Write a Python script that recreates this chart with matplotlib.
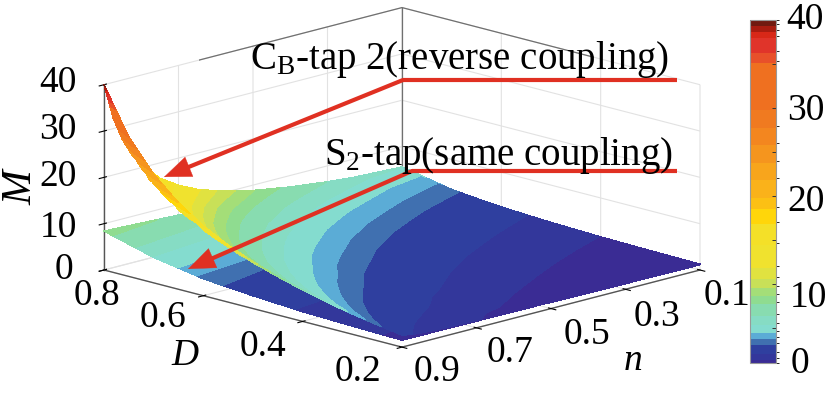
import numpy as np
import matplotlib
matplotlib.use('Agg')
import matplotlib.pyplot as plt
from matplotlib.colors import ListedColormap, BoundaryNorm
from matplotlib.cm import ScalarMappable
from mpl_toolkits.mplot3d import proj3d

plt.rcParams['font.family'] = ['Liberation Serif', 'DejaVu Serif']
plt.rcParams['mathtext.fontset'] = 'custom'
plt.rcParams['mathtext.rm'] = 'Liberation Serif'
plt.rcParams['mathtext.it'] = 'Liberation Serif:italic'

W, H = 827, 395

# values
D_rev = [0.2, 0.25, 0.3, 0.35, 0.4, 0.45, 0.5, 0.55, 0.6, 0.65, 0.7, 0.75, 0.8]
n_rev = [0.1, 0.2, 0.3, 0.4, 0.5, 0.6, 0.65, 0.7, 0.75, 0.8, 0.825, 0.85, 0.875, 0.9]
M_rev = [
    [1.13, 1.22, 1.33, 1.45, 1.59, 1.76, 1.96, 2.21, 2.52, 2.91, 3.44, 4.18, 5.60],
    [1.16, 1.27, 1.39, 1.52, 1.68, 1.87, 2.10, 2.38, 2.73, 3.17, 3.77, 4.60, 5.85],
    [1.21, 1.33, 1.46, 1.62, 1.80, 2.02, 2.28, 2.60, 2.99, 3.50, 4.18, 5.14, 6.57],
    [1.27, 1.41, 1.57, 1.75, 1.96, 2.21, 2.52, 2.89, 3.35, 3.95, 4.74, 5.85, 7.52],
    [1.35, 1.52, 1.71, 1.93, 2.18, 2.49, 2.85, 3.29, 3.85, 4.56, 5.52, 6.85, 8.85],
    [1.48, 1.68, 1.92, 2.20, 2.52, 2.90, 3.35, 3.91, 4.60, 5.49, 6.68, 8.35, 10.85],
    [1.51, 1.75, 2.03, 2.34, 2.71, 3.14, 3.66, 4.29, 5.09, 6.11, 7.47, 9.37, 12.23],
    [1.63, 1.91, 2.23, 2.59, 3.02, 3.53, 4.13, 4.87, 5.80, 6.99, 8.58, 10.80, 14.13],
    [1.70, 2.03, 2.42, 2.85, 3.37, 3.97, 4.70, 5.59, 6.70, 8.13, 10.03, 12.70, 16.70],
    [1.80, 2.22, 2.70, 3.24, 3.89, 4.64, 5.55, 6.66, 8.05, 9.84, 12.22, 15.55, 20.55],
    [1.88, 2.36, 2.91, 3.53, 4.27, 5.13, 6.17, 7.44, 9.03, 11.07, 13.79, 17.60, 23.31],
    [2.02, 2.57, 3.21, 3.94, 4.80, 5.80, 7.02, 8.50, 10.35, 12.73, 15.90, 20.35, 27.02],
    [2.21, 2.87, 3.64, 4.51, 5.54, 6.75, 8.21, 9.98, 12.21, 15.06, 18.87, 24.21, 32.21],
    [2.60, 3.43, 4.39, 5.48, 6.77, 8.28, 10.10, 12.32, 15.10, 18.67, 23.43, 30.10, 40.00],
]

D_same = [0.2, 0.3, 0.4, 0.5, 0.6, 0.7, 0.8]
n_same = [0.1, 0.3, 0.5, 0.7, 0.9]
M_same = [
    [1.25, 1.40, 1.60, 1.95, 2.45, 3.50, 5.60],
    [1.31, 1.49, 1.73, 2.15, 2.75, 4.00, 6.30],
    [1.37, 1.57, 1.85, 2.35, 3.05, 4.50, 7.00],
    [1.44, 1.66, 1.98, 2.55, 3.35, 5.00, 7.70],
    [1.50, 1.75, 2.10, 2.75, 3.65, 5.50, 8.40],
]

levels = [1.0, 1.6, 2.2, 3.3, 3.9, 4.6, 5.6, 6.6, 7.9, 8.8, 9.8, 10.8, 12, 14.7, 17,
          18.7, 20, 22, 24, 26, 28, 30, 35.3, 36.5, 38.2, 38.9, 39.6, 40]
band_colors = ['#3a2c94', '#33379b', '#2f3f9f', '#4070b0', '#5bacd6', '#84dccf', '#86dcc4',
               '#88dcb0', '#8fdc90', '#a4de78', '#c8e058', '#e0e240', '#f0e22e',
               '#f4e028', '#ffd60a', '#fcc014', '#fab21a', '#f8a51c', '#f5951e',
               '#f3861f', '#f07a20', '#ef7020', '#e8502a', '#e0342a', '#d82818',
               '#a81c10', '#701a10']

D_ticks = [0.2, 0.4, 0.6, 0.8]
n_ticks = [0.1, 0.3, 0.5, 0.7, 0.9]
M_ticks = [0, 10, 20, 30, 40]
cbar_ticks = [5, 10, 15, 20, 25, 30, 35]
cbar_labels = ['0', '10', '20', '30', '40']

cmap = ListedColormap(band_colors)
norm = BoundaryNorm(levels, cmap.N)

fig = plt.figure(figsize=(W / 100, H / 100), dpi=100)
ax = fig.add_axes([0, 0, 1, 1], projection='3d', proj_type='ortho')
ax.view_init(elev=15, azim=135)
ax.set_xlim(0.2, 0.8, view_margin=0)
ax.set_ylim(0.1, 0.9, view_margin=0)
ax.set_zlim(0, 40, view_margin=0)
ax.set_xticks(D_ticks)
ax.set_yticks(n_ticks)
ax.set_zticks(M_ticks)
ax.set_xticklabels([])
ax.set_yticklabels([])
ax.set_zticklabels([])
for axis in [ax.xaxis, ax.yaxis, ax.zaxis]:
    axis.set_pane_color((1, 1, 1, 0))
    axis.line.set_color('#555555')
    axis.line.set_linewidth(1.0)
    axis._axinfo['grid']['color'] = '#e2e2e2'
    axis._axinfo['grid']['linewidth'] = 0.8
    axis._axinfo['tick']['color'] = '#555555'
    axis._axinfo['tick']['linewidth'] = {True: 0.8, False: 0.5}
ax.zaxis.set_ticks_position('upper')

# back walls of the box, on top of the grid lines that share these edges
ax.plot([0.8, 0.8, 0.2], [0.9, 0.1, 0.1], [40, 40, 40], color='#707070', lw=0.9)
ax.plot([0.8, 0.8, 0.2], [0.9, 0.1, 0.1], [0, 0, 0], color='#707070', lw=0.9)
ax.plot([0.8, 0.8], [0.1, 0.1], [0, 40], color='#707070', lw=0.9)
ax.plot([0.2, 0.2], [0.1, 0.1], [0, 40], color='#606060', lw=1.1)
ax.plot([0.8, 0.8], [0.9, 0.9], [0, 40], color='#555555', lw=1.1)


def to_px(d, n, m):
    shape = np.shape(d)
    x2, y2, _ = proj3d.proj_transform(np.ravel(d).astype(float), np.ravel(n).astype(float),
                                      np.ravel(m).astype(float), ax.get_proj())
    pts = ax.transData.transform(np.column_stack([x2, y2]))
    return pts[:, 0].reshape(shape), H - pts[:, 1].reshape(shape)


# fit the box onto the reference corners
zoom = 1.0
ax.set_box_aspect((424, 424, 193), zoom=zoom)
fig.canvas.draw()
xs, ys = to_px([0.8, 0.2], [0.9, 0.1], [0, 0])
zoom *= 596 / (xs[1] - xs[0])
ax.set_box_aspect((424, 424, 193), zoom=zoom)
fig.canvas.draw()
xs, ys = to_px([0.8, 0.2], [0.9, 0.1], [0, 0])
ax.set_position([(104 - xs[0]) / W, (ys[0] - 270) / H, 1, 1])
fig.canvas.draw()

over = fig.add_axes([0, 0, 1, 1])
over.set_xlim(0, W)
over.set_ylim(H, 0)
over.axis('off')
over.patch.set_alpha(0)

# same coupling first, the reverse coupling surface hides it where they overlap
for d_vals, n_vals, m_vals in [(D_same, n_same, M_same), (D_rev, n_rev, M_rev)]:
    Dg, Ng = np.meshgrid(d_vals, n_vals)
    Mg = np.array(m_vals)
    px, py = to_px(Dg, Ng, Mg)
    cs = over.contourf(px, py, Mg, levels=levels, cmap=cmap, norm=norm)
    cs.set_edgecolor('face')
    cs.set_linewidth(0.3)

# callouts
red = '#e03022'
over.plot([677, 403], [80, 80], color=red, lw=3, solid_capstyle='butt')
over.plot([677, 412], [171, 171], color=red, lw=3, solid_capstyle='butt')
for start, tip in [((403, 80), (164, 177)), ((412, 171), (188, 269))]:
    over.annotate('', xy=tip, xytext=start,
                  arrowprops=dict(arrowstyle='-', color=red, lw=3, shrinkA=0, shrinkB=15))
    over.annotate('', xy=tip, xytext=start,
                  arrowprops=dict(arrowstyle='-|>,head_length=1.9,head_width=0.75',
                                  color=red, lw=0.3, shrinkA=0, shrinkB=0))

fs = 27
over.text(250, 69, r'C$_{\mathrm{B}}$-tap 2(reverse coupling)', fontsize=28, va='baseline')
over.text(324, 165, r'S$_{2}$-tap(same coupling)', fontsize=28, va='baseline')

for val, x, y in zip(D_ticks, [358, 263, 163, 97], [372, 347, 318, 296]):
    over.text(x, y, f'{val:.1f}', fontsize=fs, ha='center', va='center')
for val, x, y in zip(n_ticks, [727, 657, 587, 510, 437], [296, 317, 335, 353, 372]):
    over.text(x, y, f'{val:.1f}', fontsize=fs, ha='center', va='center')
for val, x, y in zip(M_ticks, [64, 58, 58, 58, 58], [270, 228, 177, 130, 83]):
    over.text(x, y, str(val), fontsize=fs, ha='center', va='center')
over.text(21, 188, 'M', fontsize=30, style='italic', rotation=90, ha='center', va='center')
over.text(185, 356, 'D', fontsize=fs, style='italic', ha='center', va='center')
over.text(633, 361, 'n', fontsize=fs, style='italic', ha='center', va='center')

# colour bar
cax = fig.add_axes([750 / W, 1 - 363 / H, 26 / W, 343 / H])
cb = fig.colorbar(ScalarMappable(norm=norm, cmap=cmap), cax=cax, spacing='proportional',
                  ticks=cbar_ticks)
cb.ax.set_yticklabels([])
cb.ax.tick_params(direction='in', length=3, width=0.7, color='#333333')
cb.outline.set_edgecolor('#999999')
cb.outline.set_linewidth(0.8)
cb.solids.set_edgecolor('face')
for lab, x, y in zip(cbar_labels, [800, 808, 806, 806, 805], [364, 298, 202, 111, 20]):
    over.text(x, y, lab, fontsize=fs, ha='center', va='center')

fig.savefig('out.png', dpi=100)
